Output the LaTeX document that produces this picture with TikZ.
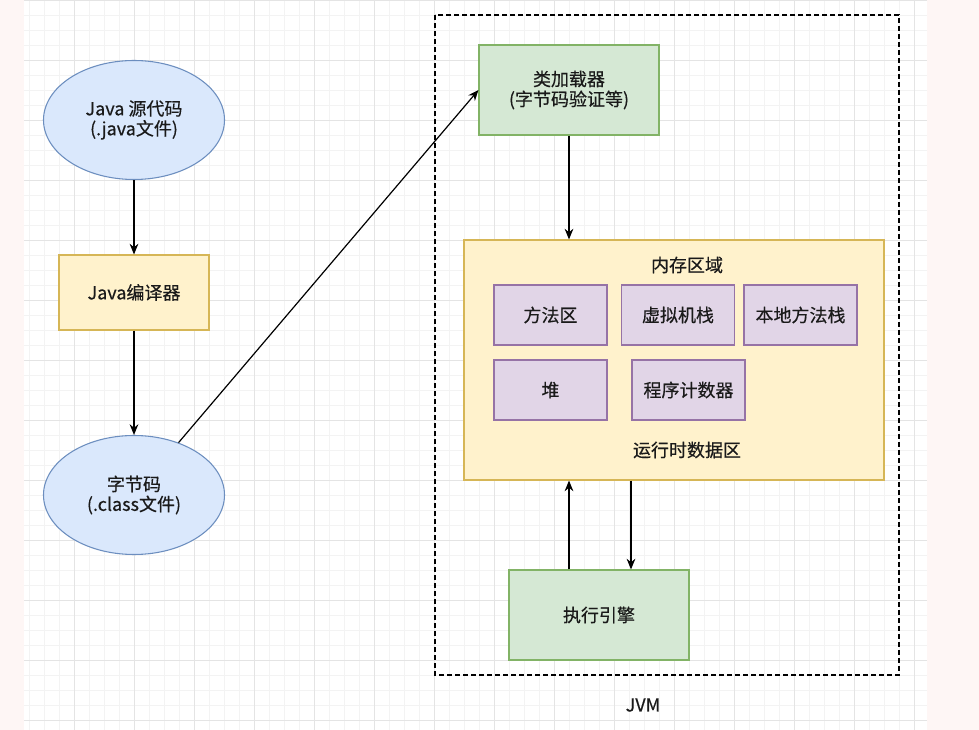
\documentclass[tikz,border=0pt]{standalone}
\usepackage{fontspec}
\setmainfont{Noto Sans CJK SC}[FakeBold=0.4]
\usetikzlibrary{shapes.geometric,arrows.meta}
\definecolor{pinkbg}{HTML}{FEF6F5}
\definecolor{gridminor}{HTML}{F3F3F3}
\definecolor{gridmajor}{HTML}{E4E4E4}
\definecolor{bluefill}{HTML}{DAE8FC}
\definecolor{bluedraw}{HTML}{6C8EBF}
\definecolor{yelfill}{HTML}{FFF2CC}
\definecolor{yeldraw}{HTML}{D6B656}
\definecolor{grnfill}{HTML}{D5E8D4}
\definecolor{grndraw}{HTML}{82B366}
\definecolor{purfill}{HTML}{E1D5E7}
\definecolor{purdraw}{HTML}{9673A6}
\definecolor{txt}{HTML}{1A1A1A}
\tikzset{
  base/.style={line width=0.8pt, text=txt, align=center, inner sep=0pt,
    font=\fontsize{13.5}{15}\selectfont},
  ell/.style={base, ellipse, draw=bluedraw, fill=bluefill, minimum width=135.75pt, minimum height=89.25pt},
  ybox/.style={base, rectangle, draw=yeldraw, fill=yelfill},
  gbox/.style={base, rectangle, draw=grndraw, fill=grnfill, minimum width=135pt, minimum height=67.5pt},
  pbox/.style={base, rectangle, draw=purdraw, fill=purfill, minimum width=84.75pt, minimum height=45pt},
  lbl/.style={text=txt, inner sep=0pt, font=\fontsize{13.5}{15}\selectfont},
  conn/.style={line width=0.9pt, black, -{Stealth[length=8pt,width=6.5pt]}},
}
\begin{document}
\begin{tikzpicture}[x=0.75pt,y=-0.75pt]
\useasboundingbox (0,0) rectangle (979,730);
\fill[pinkbg] (0,0) rectangle (979,730);
\fill[white] (24,0) rectangle (927,730);
% grid
\begin{scope}
\clip (24,0) rectangle (927,730);
\foreach \i in {0,...,61} {
  \draw[gridminor, line width=0.5pt] ({14.5+15*\i},0) -- ({14.5+15*\i},730);
}
\foreach \j in {0,...,49} {
  \draw[gridminor, line width=0.5pt] (24,{15*\j}) -- (927,{15*\j});
}
\foreach \i in {0,...,15} {
  \draw[gridmajor, line width=0.6pt] ({14.5+60*\i},0) -- ({14.5+60*\i},730);
}
\foreach \j in {0,...,12} {
  \draw[gridmajor, line width=0.6pt] (24,{60*\j}) -- (927,{60*\j});
}
\end{scope}
% JVM dashed frame
\draw[black, line width=0.9pt, dash pattern=on 3.5pt off 2.5pt] (435,15) rectangle (899,675);
\node[lbl] (jvm) at (643,705) {JVM};
% left column
\node[ell] (src) at (134,120) {Java 源代码\\(.java文件)};
\node[ybox, minimum width=112.5pt, minimum height=56.25pt] (javac) at (134,292.5) {Java编译器};
\node[ell] (bc) at (134,495) {字节码\\(.class文件)};
% right column
\node[gbox] (loader) at (569,90) {类加载器\\(字节码验证等)};
\node[ybox, minimum width=315pt, minimum height=180pt] (mem) at (674,360) {};
\node[lbl] (memt) at (687,265) {内存区域};
\node[lbl] (rtd) at (687,450) {运行时数据区};
\node[pbox] (method) at (550.5,315) {方法区};
\node[pbox] (vmstack) at (678,315) {虚拟机栈};
\node[pbox] (native) at (800.5,315) {本地方法栈};
\node[pbox] (heap) at (550.5,390) {堆};
\node[pbox] (pc) at (688.5,390) {程序计数器};
\node[gbox] (exec) at (599,615) {执行引擎};
% connectors
\draw[conn] (src) -- (javac);
\draw[conn] (javac) -- (bc);
\draw[conn] (bc) -- (loader.west);
\draw[conn] (loader.south -| 569,0) -- (mem.north -| 569,0);
\draw[conn] (exec.north -| 569,0) -- (mem.south -| 569,0);
\draw[conn] (mem.south -| 631,0) -- (exec.north -| 631,0);
\end{tikzpicture}
\end{document}
